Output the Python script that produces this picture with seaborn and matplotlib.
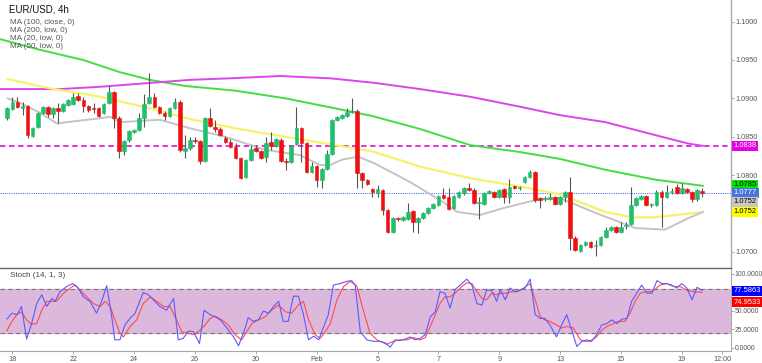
import numpy as np
import pandas as pd
import matplotlib
matplotlib.use("Agg")
import matplotlib.pyplot as plt
import seaborn as sns

# EUR/USD 4h candles, 17 Jan 20:00 -> 19 Feb 16:00 (138 bars)
opens = [
    1.0874, 1.0886, 1.0895, 1.0887, 1.0890, 1.0851, 1.0863, 1.0881, 1.0889, 1.0880,
    1.0887, 1.0884, 1.0891, 1.0893, 1.0903, 1.0898, 1.0890, 1.0887, 1.0887, 1.0881,
    1.0894, 1.0908, 1.0874, 1.0831, 1.0846, 1.0856, 1.0859, 1.0874, 1.0894, 1.0902,
    1.0889, 1.0881, 1.0877, 1.0887, 1.0895, 1.0831, 1.0835, 1.0846, 1.0844, 1.0818,
    1.0874, 1.0863, 1.0860, 1.0848, 1.0843, 1.0837, 1.0822, 1.0798, 1.0820, 1.0835,
    1.0831, 1.0824, 1.0843, 1.0838, 1.0846, 1.0818, 1.0817, 1.0841, 1.0861, 1.0842,
    1.0804, 1.0812, 1.0794, 1.0808, 1.0828, 1.0872, 1.0874, 1.0877, 1.0882, 1.0884,
    1.0803, 1.0794, 1.0782, 1.0777, 1.0781, 1.0755, 1.0726, 1.0744, 1.0742, 1.0743,
    1.0753, 1.0739, 1.0744, 1.0751, 1.0757, 1.0761, 1.0774, 1.0772, 1.0757, 1.0772,
    1.0777, 1.0783, 1.0781, 1.0764, 1.0762, 1.0777, 1.0778, 1.0772, 1.0782, 1.0772,
    1.0786, 1.0783, 1.0791, 1.0798, 1.0804, 1.0770, 1.0769, 1.0769, 1.0772, 1.0762,
    1.0772, 1.0778, 1.0718, 1.0701, 1.0709, 1.0713, 1.0708, 1.0709, 1.0719, 1.0729,
    1.0732, 1.0726, 1.0734, 1.0736, 1.0761, 1.0769, 1.0773, 1.0761, 1.0761, 1.0778,
    1.0772, 1.0778, 1.0785, 1.0777, 1.0782, 1.0778, 1.0769, 1.0779,
]
highs = [
    1.0889, 1.0902, 1.0902, 1.0895, 1.0891, 1.0863, 1.0882, 1.0890, 1.0890, 1.0889,
    1.0894, 1.0894, 1.0899, 1.0907, 1.0907, 1.0902, 1.0891, 1.0894, 1.0889, 1.0894,
    1.0916, 1.0910, 1.0877, 1.0846, 1.0859, 1.0860, 1.0881, 1.0906, 1.0933, 1.0907,
    1.0890, 1.0884, 1.0889, 1.0900, 1.0898, 1.0852, 1.0850, 1.0850, 1.0846, 1.0876,
    1.0887, 1.0872, 1.0863, 1.0851, 1.0847, 1.0842, 1.0824, 1.0821, 1.0839, 1.0839,
    1.0833, 1.0850, 1.0856, 1.0848, 1.0848, 1.0822, 1.0839, 1.0889, 1.0863, 1.0843,
    1.0817, 1.0813, 1.0809, 1.0833, 1.0873, 1.0877, 1.0880, 1.0887, 1.0900, 1.0886,
    1.0804, 1.0795, 1.0783, 1.0787, 1.0782, 1.0756, 1.0745, 1.0745, 1.0747, 1.0764,
    1.0755, 1.0745, 1.0752, 1.0759, 1.0764, 1.0774, 1.0783, 1.0783, 1.0774, 1.0779,
    1.0785, 1.0790, 1.0783, 1.0772, 1.0778, 1.0781, 1.0779, 1.0782, 1.0783, 1.0795,
    1.0787, 1.0786, 1.0799, 1.0807, 1.0805, 1.0772, 1.0773, 1.0777, 1.0773, 1.0773,
    1.0779, 1.0798, 1.0721, 1.0710, 1.0714, 1.0714, 1.0716, 1.0721, 1.0732, 1.0734,
    1.0734, 1.0739, 1.0739, 1.0785, 1.0772, 1.0774, 1.0774, 1.0764, 1.0781, 1.0781,
    1.0787, 1.0783, 1.0788, 1.0790, 1.0783, 1.0779, 1.0782, 1.0783,
]
lows = [
    1.0872, 1.0885, 1.0887, 1.0878, 1.0848, 1.0850, 1.0861, 1.0880, 1.0876, 1.0874,
    1.0868, 1.0882, 1.0890, 1.0891, 1.0897, 1.0882, 1.0882, 1.0881, 1.0876, 1.0880,
    1.0893, 1.0861, 1.0822, 1.0826, 1.0843, 1.0855, 1.0857, 1.0863, 1.0893, 1.0887,
    1.0880, 1.0872, 1.0876, 1.0886, 1.0830, 1.0822, 1.0833, 1.0842, 1.0815, 1.0817,
    1.0863, 1.0856, 1.0851, 1.0842, 1.0835, 1.0821, 1.0795, 1.0796, 1.0818, 1.0830,
    1.0821, 1.0817, 1.0833, 1.0837, 1.0817, 1.0807, 1.0816, 1.0839, 1.0817, 1.0803,
    1.0803, 1.0785, 1.0783, 1.0807, 1.0826, 1.0870, 1.0873, 1.0876, 1.0881, 1.0783,
    1.0783, 1.0787, 1.0772, 1.0772, 1.0748, 1.0725, 1.0725, 1.0740, 1.0740, 1.0742,
    1.0726, 1.0725, 1.0743, 1.0749, 1.0756, 1.0760, 1.0769, 1.0755, 1.0756, 1.0770,
    1.0774, 1.0779, 1.0762, 1.0743, 1.0761, 1.0775, 1.0770, 1.0770, 1.0764, 1.0764,
    1.0782, 1.0781, 1.0790, 1.0796, 1.0765, 1.0757, 1.0766, 1.0768, 1.0761, 1.0761,
    1.0765, 1.0703, 1.0701, 1.0700, 1.0708, 1.0705, 1.0695, 1.0708, 1.0718, 1.0727,
    1.0725, 1.0725, 1.0730, 1.0735, 1.0760, 1.0768, 1.0760, 1.0759, 1.0760, 1.0732,
    1.0770, 1.0775, 1.0775, 1.0775, 1.0777, 1.0765, 1.0766, 1.0772,
]
closes = [
    1.0887, 1.0895, 1.0889, 1.0890, 1.0852, 1.0861, 1.0881, 1.0889, 1.0880, 1.0887,
    1.0884, 1.0893, 1.0898, 1.0902, 1.0898, 1.0890, 1.0885, 1.0886, 1.0877, 1.0893,
    1.0908, 1.0874, 1.0831, 1.0844, 1.0857, 1.0859, 1.0874, 1.0893, 1.0902, 1.0889,
    1.0881, 1.0877, 1.0887, 1.0895, 1.0833, 1.0835, 1.0846, 1.0844, 1.0818, 1.0874,
    1.0864, 1.0860, 1.0852, 1.0843, 1.0837, 1.0822, 1.0796, 1.0820, 1.0834, 1.0831,
    1.0822, 1.0842, 1.0838, 1.0847, 1.0818, 1.0817, 1.0838, 1.0861, 1.0842, 1.0804,
    1.0812, 1.0794, 1.0808, 1.0828, 1.0872, 1.0876, 1.0878, 1.0882, 1.0883, 1.0803,
    1.0794, 1.0788, 1.0778, 1.0782, 1.0755, 1.0726, 1.0744, 1.0743, 1.0745, 1.0752,
    1.0739, 1.0744, 1.0751, 1.0757, 1.0762, 1.0773, 1.0770, 1.0756, 1.0773, 1.0778,
    1.0783, 1.0781, 1.0764, 1.0765, 1.0777, 1.0779, 1.0772, 1.0781, 1.0772, 1.0785,
    1.0783, 1.0784, 1.0798, 1.0804, 1.0768, 1.0768, 1.0770, 1.0772, 1.0762, 1.0772,
    1.0778, 1.0718, 1.0703, 1.0709, 1.0713, 1.0706, 1.0709, 1.0719, 1.0729, 1.0732,
    1.0726, 1.0732, 1.0735, 1.0761, 1.0770, 1.0773, 1.0761, 1.0762, 1.0778, 1.0772,
    1.0778, 1.0779, 1.0777, 1.0783, 1.0778, 1.0769, 1.0781, 1.0777,
]

# moving averages (bar index, price)
ma200_bar = [-1.4, 10.4, 18.3, 28.1, 36.0, 43.9, 53.8, 63.7, 72.5, 81.4, 91.3, 101.1, 109.0, 117.9, 127.8, 134.3, 137.2]
ma200_val = [1.0912, 1.0912, 1.0915, 1.0920, 1.0924, 1.0926, 1.0929, 1.0926, 1.0920, 1.0912, 1.0902, 1.0889, 1.0878, 1.0869, 1.0852, 1.0841, 1.0838]
ma100_bar = [-1.4, 6.5, 14.9, 22.2, 28.1, 35.1, 44.9, 54.8, 64.6, 71.9, 81.4, 91.3, 101.1, 109.0, 117.9, 127.8, 137.2]
ma100_val = [1.0977, 1.0963, 1.0950, 1.0934, 1.0924, 1.0916, 1.0910, 1.0900, 1.0887, 1.0877, 1.0860, 1.0839, 1.0830, 1.0821, 1.0807, 1.0794, 1.0786]
ma50_bar = [0.0, 8.4, 18.3, 28.1, 36.0, 44.9, 54.8, 64.6, 71.9, 81.4, 91.3, 101.1, 109.0, 117.9, 123.2, 127.8, 137.2]
ma50_val = [1.0925, 1.0913, 1.0902, 1.0887, 1.0873, 1.0861, 1.0850, 1.0839, 1.0831, 1.0811, 1.0796, 1.0785, 1.0775, 1.0752, 1.0745, 1.0745, 1.0752]
ma20_bar = [0.0, 2.5, 6.5, 9.8, 11.8, 18.3, 20.3, 22.2, 30.1, 36.0, 42.9, 50.8, 57.7, 61.7, 63.6,
            66.0, 69.2, 72.5, 79.4, 85.9, 88.7, 93.2, 97.8, 104.5, 109.0, 115.9, 123.8, 129.7, 134.3, 137.2]
ma20_val = [1.0900, 1.0894, 1.0881, 1.0867, 1.0869, 1.0874, 1.0876, 1.0869, 1.0872, 1.0861, 1.0850, 1.0833, 1.0826, 1.0813, 1.0813,
            1.0820, 1.0824, 1.0815, 1.0791, 1.0765, 1.0752, 1.0748, 1.0757, 1.0768, 1.0770, 1.0751, 1.0731, 1.0729, 1.0744, 1.0752]

# stochastic (14, 1, 3): %K blue, %D red
stoch_k_bar = [
    -0.1, 0.9, 1.9, 2.8, 3.8, 4.8, 5.8, 6.8, 7.8, 8.8,
    9.4, 10.4, 11.7, 12.9, 14.0, 15.0, 16.3, 17.6, 18.6, 19.6,
    20.6, 21.2, 22.2, 23.2, 24.2, 25.2, 26.8, 27.8, 28.8, 30.1,
    31.4, 32.8, 33.7, 34.7, 35.7, 36.7, 37.9, 38.8, 40.0, 41.0,
    42.0, 43.3, 44.6, 45.6, 46.9, 47.5, 48.5, 49.5, 50.5, 51.5,
    52.5, 53.5, 54.4, 55.4, 56.4, 57.4, 58.4, 59.4, 60.4, 61.4,
    62.3, 63.3, 64.3, 65.6, 66.9, 67.9, 68.6, 69.6, 70.9, 72.2,
    73.5, 74.5, 75.5, 76.5, 77.4, 78.4, 79.4, 80.4, 81.4, 82.4,
    83.4, 84.4, 85.3, 86.3, 87.3, 88.3, 89.6, 90.6, 91.6, 92.6,
    93.6, 94.5, 95.5, 96.5, 97.2, 98.2, 99.1, 100.1, 101.1, 102.1,
    103.1, 104.1, 105.1, 106.0, 107.0, 108.3, 109.3, 110.3, 111.3, 112.3,
    113.3, 114.3, 115.2, 116.2, 117.2, 118.2, 119.2, 120.2, 121.2, 122.2,
    123.1, 124.1, 125.1, 126.1, 127.1, 128.1, 129.1, 130.0, 131.0, 132.0,
    133.0, 134.0, 135.0, 136.0, 137.0,
]
stoch_k_val = [
    39, 47, 45, 56, 12, 33, 60, 72, 56, 67,
    63, 76, 83, 87, 81, 69, 63, 47, 63, 84,
    42, 11, 11, 31, 40, 47, 75, 72, 65, 56,
    51, 67, 11, 13, 23, 22, 6, 51, 45, 42,
    38, 27, 15, 3, 27, 41, 36, 38, 50, 47,
    56, 63, 36, 36, 70, 70, 45, 11, 16, 11,
    27, 45, 85, 87, 90, 91, 85, 22, 11, 9,
    9, 7, 1, 11, 10, 12, 15, 11, 13, 18,
    42, 49, 76, 74, 54, 79, 87, 93, 85, 60,
    58, 78, 78, 63, 79, 65, 81, 76, 78, 81,
    93, 45, 40, 40, 31, 15, 31, 45, 24, 2,
    9, 11, 9, 18, 31, 33, 38, 33, 39, 40,
    63, 74, 85, 74, 74, 91, 87, 87, 85, 81,
    87, 81, 65, 82, 77.6,
]
stoch_d_bar = [
    -0.1, 0.9, 1.9, 2.8, 3.8, 4.8, 5.8, 6.8, 7.8, 8.8,
    9.7, 11.1, 12.4, 13.4, 14.3, 15.7, 17.0, 18.3, 19.3, 20.3,
    21.2, 22.2, 22.9, 24.2, 25.5, 26.8, 28.2, 29.5, 30.8, 32.1,
    33.4, 34.4, 35.7, 36.7, 38.0, 39.0, 40.0, 41.0, 42.3, 43.6,
    44.9, 46.2, 47.2, 48.2, 49.5, 50.8, 52.1, 53.5, 54.8, 56.1,
    57.4, 58.4, 59.4, 60.7, 61.7, 62.7, 63.7, 65.0, 66.3, 67.6,
    68.9, 70.2, 71.5, 72.9, 73.5, 74.8, 76.1, 77.4, 78.8, 80.1,
    81.4, 82.4, 83.4, 84.4, 85.3, 86.3, 87.3, 88.3, 89.6, 90.6,
    91.6, 92.6, 93.6, 94.5, 95.5, 96.5, 97.5, 98.5, 99.5, 100.5,
    101.8, 103.1, 104.1, 105.1, 106.0, 107.0, 108.3, 109.3, 110.3, 111.6,
    113.0, 113.9, 114.9, 116.2, 117.2, 118.2, 119.5, 120.5, 121.8, 122.8,
    123.8, 124.8, 125.8, 126.8, 127.7, 128.7, 130.0, 131.4, 132.7, 134.0,
    135.3, 137.0,
]
stoch_d_val = [
    23, 36, 45, 49, 38, 32, 33, 51, 63, 63,
    63, 74, 81, 85, 78, 69, 60, 56, 63, 56,
    38, 20, 15, 29, 38, 60, 69, 63, 56, 56,
    38, 22, 20, 18, 24, 31, 40, 43, 38, 31,
    18, 11, 22, 33, 38, 42, 51, 58, 49, 47,
    58, 63, 38, 18, 13, 22, 33, 65, 83, 90,
    84, 51, 20, 11, 9, 5, 9, 11, 11, 14,
    11, 14, 29, 45, 60, 69, 69, 74, 83, 88,
    87, 76, 67, 65, 74, 72, 74, 74, 76, 76,
    81, 87, 65, 42, 38, 36, 31, 27, 29, 27,
    11, 9, 9, 15, 24, 29, 33, 36, 36, 47,
    63, 74, 76, 76, 79, 85, 87, 83, 83, 78,
    76, 75.0,
]

# x axis date labels (bar index of each day start)
date_bars = [1, 13, 25, 37, 49, 61, 73, 85, 97, 109, 121, 133, 141]
date_labels = ["18", "22", "24", "26", "30", "Feb", "5", "7", "9", "13", "15", "19", "12:00"]

# last-value tags on the price scale
tag_values = [1.0838, 1.0785, 1.0777, 1.0752, 1.0752]
tag_text = ["1.0838", "1.0785", "1.0777", "1.0752", "1.0752"]
tag_colors = ["#e600e6", "#00e600", "#4a72e0", "#c8c8c8", "#ffff00"]
tag_font = ["white", "black", "white", "black", "black"]
tag_shift = [0, 1.5, 0, 7.5, 0]
stoch_tag_values = [77.5863, 74.9533]
stoch_tag_colors = ["#0000ff", "#ff0000"]
stoch_tag_shift = [0, -7]

candles = pd.DataFrame({"open": opens, "high": highs, "low": lows, "close": closes})
candles["bar"] = np.arange(len(candles))
candles["up"] = candles["close"] >= candles["open"]

sns.set_style("white")
plt.rcParams["font.family"] = ["Liberation Sans", "DejaVu Sans"]

fig = plt.figure(figsize=(7.62, 3.63), dpi=100)
ax = fig.add_axes([0, 0.2617, 0.9593, 0.7383])
ax2 = fig.add_axes([0, 0.0331, 0.9593, 0.2287], sharex=ax)

# --- price panel ---
ax.axhline(ma200_val[-1], color="#e020e0", lw=1.3, ls=(0, (3, 2)), zorder=1)
ax.axhline(closes[-1], color="#5577ee", lw=0.8, ls=(0, (1, 1)), zorder=1)

sns.lineplot(x=ma100_bar, y=ma100_val, ax=ax, color="#44dd44", linewidth=1.4, zorder=2)
sns.lineplot(x=ma200_bar, y=ma200_val, ax=ax, color="#dd44ee", linewidth=1.4, zorder=2)
sns.lineplot(x=ma50_bar, y=ma50_val, ax=ax, color="#f6f36a", linewidth=1.6, zorder=2)
sns.lineplot(x=ma20_bar, y=ma20_val, ax=ax, color="#c4c4c4", linewidth=1.4, zorder=2)

body_colors = np.where(candles["up"], "#1fbf6c", "#ee1111")
ax.vlines(candles["bar"], candles["low"], candles["high"], color="#555555", lw=0.8, zorder=3)
ax.bar(candles["bar"], candles["close"] - candles["open"], bottom=candles["open"],
       width=0.72, color=body_colors, edgecolor=body_colors, linewidth=0.4, zorder=4)

ax.set_xlim(-1.44, 142.7)
ax.set_ylim(1.0679, 1.1028)
ax.yaxis.tick_right()
ax.set_yticks([1.07, 1.08, 1.085, 1.09, 1.095, 1.10])
ax.yaxis.set_major_formatter(plt.FormatStrFormatter("%.4f"))
ax.tick_params(axis="y", length=2, width=0.6, color="#999999", labelsize=5.2,
               labelcolor="#555555", pad=1, right=True)
ax.tick_params(axis="x", bottom=False, labelbottom=False)
for side in ["top", "left", "bottom"]:
    ax.spines[side].set_visible(False)
ax.spines["right"].set_color("#aaaaaa")
ax.spines["right"].set_linewidth(1.0)
ax.set_xlabel("")
ax.set_ylabel("")

for val, txt, bg, fg, dy in zip(tag_values, tag_text, tag_colors, tag_font, tag_shift):
    ax.annotate(txt, xy=(1.0, val), xycoords=("axes fraction", "data"),
                xytext=(2.0, dy), textcoords="offset points", ha="left", va="center",
                fontsize=5.4, color=fg, zorder=10, annotation_clip=False,
                bbox=dict(boxstyle="square,pad=0.2", fc=bg, ec="none"))

fig.text(9 / 762, 1 - 10 / 363, "EUR/USD, 4h", fontsize=7, va="center", color="#111111")
legend_lines = ["MA (100, close, 0)", "MA (200, low, 0)", "MA (20, low, 0)", "MA (50, low, 0)"]
for n, line in enumerate(legend_lines):
    fig.text(10 / 762, 1 - (23 + 8 * n) / 363, line, fontsize=5.8, va="center", color="#555555")

# --- stochastic panel ---
ax2.axhspan(20, 80, color="#dcb9dc", zorder=0)
ax2.axhline(80, color="#777777", lw=0.8, ls=(0, (4, 3)), zorder=1)
ax2.axhline(20, color="#777777", lw=0.8, ls=(0, (4, 3)), zorder=1)
sns.lineplot(x=stoch_d_bar, y=stoch_d_val, ax=ax2, color="#ff4a4a", linewidth=0.8, zorder=2)
sns.lineplot(x=stoch_k_bar, y=stoch_k_val, ax=ax2, color="#5a5aff", linewidth=0.8, zorder=3)

ax2.set_ylim(-4.05, 108.1)
ax2.yaxis.tick_right()
ax2.set_yticks([0, 25, 50, 100])
ax2.yaxis.set_major_formatter(plt.FormatStrFormatter("%.4f"))
ax2.tick_params(axis="y", length=2, width=0.6, color="#999999", labelsize=4.9,
                labelcolor="#555555", pad=0.8, right=True)
ax2.set_xticks(date_bars)
ax2.set_xticklabels(date_labels)
ax2.tick_params(axis="x", length=2, width=0.6, color="#999999", labelsize=5.2,
                labelcolor="#555555", pad=1.5, bottom=True)
ax2.spines["left"].set_visible(False)
ax2.spines["top"].set_color("#666666")
ax2.spines["top"].set_linewidth(1.0)
ax2.spines["right"].set_color("#aaaaaa")
ax2.spines["bottom"].set_color("#aaaaaa")
ax2.set_xlabel("")
ax2.set_ylabel("")
ax2.text(10 / 731, 1 - 8 / 83, "Stoch (14, 1, 3)", transform=ax2.transAxes,
         fontsize=5.8, va="center", color="#444444")

for val, bg, dy in zip(stoch_tag_values, stoch_tag_colors, stoch_tag_shift):
    ax2.annotate(f"{val:.4f}", xy=(1.0, val), xycoords=("axes fraction", "data"),
                 xytext=(2.0, dy), textcoords="offset points", ha="left", va="center",
                 fontsize=5.4, color="white", zorder=10, annotation_clip=False,
                 bbox=dict(boxstyle="square,pad=0.2", fc=bg, ec="none"))

fig.savefig("out.png", dpi=100)
